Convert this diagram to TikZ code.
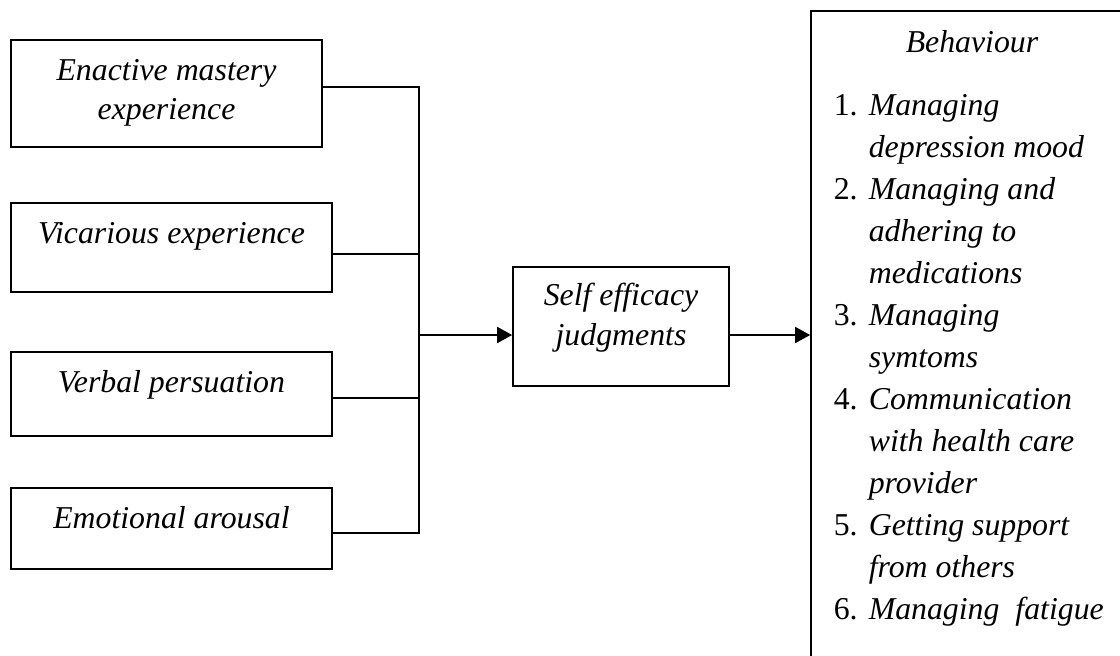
\documentclass[tikz,border=0pt]{standalone}
\usepackage{fontspec}
\setmainfont{Liberation Serif}
\usetikzlibrary{arrows.meta}
\begin{document}
\begin{tikzpicture}[x=0.5pt,y=-0.5pt, line width=0.8pt,
  box/.style={draw, rectangle, inner sep=0pt},
  txt/.style={font=\fontsize{15.9}{20}\selectfont\itshape, inner sep=0pt, anchor=base},
  ltxt/.style={font=\fontsize{15.9}{20}\selectfont\itshape, inner sep=0pt, anchor=base west},
  num/.style={font=\fontsize{15.9}{20}\selectfont, inner sep=0pt, anchor=base west},
  arr/.style={-{Triangle[length=7.5pt,width=8pt]}}]
\useasboundingbox (0,0) rectangle (1120,655);
% boxes
\node[box, minimum width=155.5pt, minimum height=53.5pt] (b1) at (166.5,93.5) {};
\node[box, minimum width=160.5pt, minimum height=44.5pt] (b2) at (171.5,247.5) {};
\node[box, minimum width=160.5pt, minimum height=42pt] (b3) at (171.5,394) {};
\node[box, minimum width=160.5pt, minimum height=40.5pt] (b4) at (171.5,528.5) {};
\node[box, minimum width=108pt, minimum height=59.5pt] (se) at (621,326.5) {};
\node[box, minimum width=162pt, minimum height=329.5pt] (beh) at (973,340.5) {};
% texts
\node[txt] (t1a) at (166.5,80) {Enactive mastery};
\node[txt] (t1b) at (166.5,119) {experience};
\node[txt] (t2) at (171.5,243) {Vicarious experience};
\node[txt] (t3) at (171.5,392) {Verbal persuation};
\node[txt] (t4) at (171.5,528) {Emotional arousal};
\node[txt] (s1) at (621,305) {Self efficacy};
\node[txt] (s2) at (621,345) {judgments};
\node[txt] (bh) at (972,52) {Behaviour};
% list
\node[num] (n1) at (833,115) {1.};
\node[ltxt] (l1) at (868,115) {Managing};
\node[ltxt] (l2) at (868,157) {depression mood};
\node[num] (n2) at (833,199) {2.};
\node[ltxt] (l3) at (868,199) {Managing and};
\node[ltxt] (l4) at (868,241) {adhering to};
\node[ltxt] (l5) at (868,283) {medications};
\node[num] (n3) at (833,325) {3.};
\node[ltxt] (l6) at (868,325) {Managing};
\node[ltxt] (l7) at (868,367) {symtoms};
\node[num] (n4) at (833,409) {4.};
\node[ltxt] (l8) at (868,409) {Communication};
\node[ltxt] (l9) at (868,451) {with health care};
\node[ltxt] (l10) at (868,493) {provider};
\node[num] (n5) at (833,535) {5.};
\node[ltxt] (l11) at (868,535) {Getting support};
\node[ltxt] (l12) at (868,577) {from others};
\node[num] (n6) at (833,619) {6.};
\node[ltxt] (l13) at (868,619) {Managing\ \ fatigue};
% connectors
\coordinate (j1) at (419,87);
\coordinate (j2) at (419,254);
\coordinate (j3) at (419,398);
\coordinate (j4) at (419,533);
\coordinate (jm) at (419,335);
\draw (b1.east |- j1) -- (j1) -- (j4) -- (b4.east |- j4);
\draw (b2.east |- j2) -- (j2);
\draw (b3.east |- j3) -- (j3);
\draw[arr] (jm) -- (se.west |- jm);
\draw[arr] (se.east |- jm) -- (beh.west |- jm);
\end{tikzpicture}
\end{document}
